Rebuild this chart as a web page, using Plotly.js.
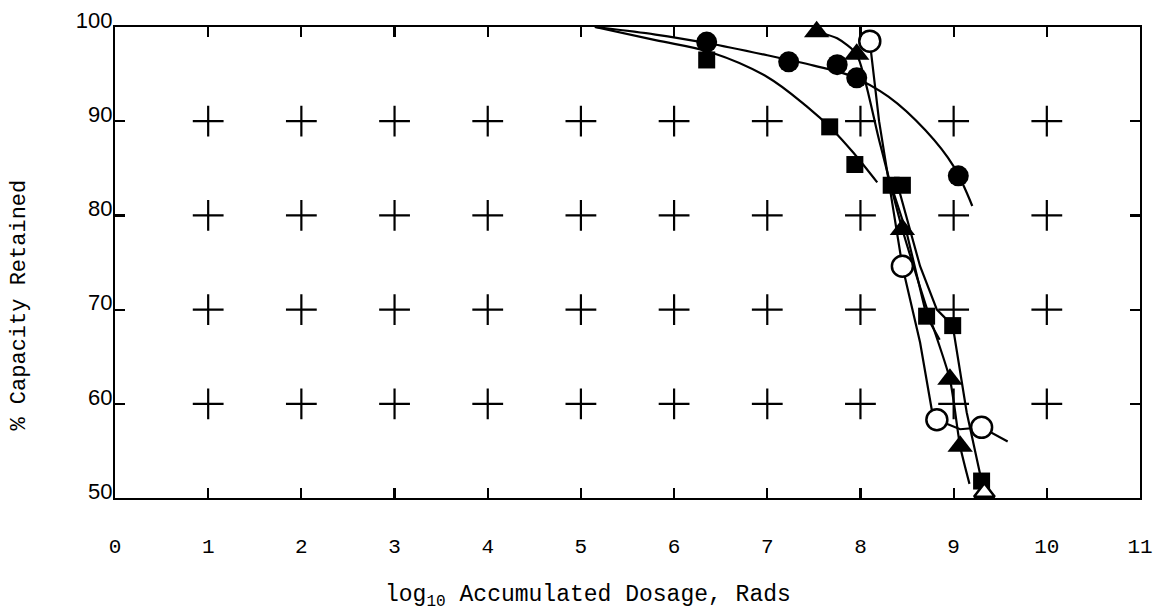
<!DOCTYPE html>
<html>
<head>
<meta charset="utf-8">
<script src="https://cdn.plot.ly/plotly-3.0.1.min.js"></script>
<style>html,body{margin:0;padding:0;background:#fff;}#chart{width:1163px;height:615px;}</style>
</head>
<body>
<div id="chart"></div>
<script>
// Grid "+" marks
const gridX = [1, 2, 3, 4, 5, 6, 7, 8, 9, 10];
const gridY = [60, 70, 80, 90];

// Data points
const circleX = [6.35, 7.23, 7.75, 7.96, 9.05];
const circleY = [98.4, 96.3, 96.0, 94.6, 84.2];
const squareX = [6.35, 7.67, 7.94, 8.33, 8.45, 8.71, 8.99, 9.30];
const squareY = [96.5, 89.4, 85.4, 83.2, 83.2, 69.3, 68.3, 51.8];
const triX = [7.53, 7.96, 8.45, 8.96, 9.07];
const triY = [99.5, 97.1, 78.5, 62.6, 55.5];
const openX = [8.10, 8.45, 8.82, 9.30];
const openY = [98.5, 74.6, 58.3, 57.5];
const openTriX = [9.33];
const openTriY = [50.6];

// Hand-drawn curves
const circleFitX = [5.15, 5.8, 6.35, 7.0, 7.5, 7.9, 8.3, 8.7, 9.0, 9.2];
const circleFitY = [100, 99.2, 98.3, 97.0, 95.9, 94.8, 92.6, 89.0, 85.2, 81.0];
const squareFitX = [5.15, 5.8, 6.4, 7.0, 7.42, 7.7, 7.92, 8.18];
const squareFitY = [100, 98.6, 97.3, 94.7, 91.6, 89.1, 86.7, 83.5];
const squareSteepX = [8.40, 8.64, 8.82, 8.99, 9.14, 9.30, 9.36];
const squareSteepY = [83.2, 74.6, 70.0, 68.3, 59.1, 51.8, 50.0];
const squareSteep2X = [8.33, 8.50, 8.71, 8.85];
const squareSteep2Y = [83.2, 78.0, 69.3, 66.8];
const triFitX = [7.53, 7.75, 7.96, 8.2, 8.45, 8.7, 8.96, 9.07, 9.17];
const triFitY = [99.5, 98.8, 97.1, 88.0, 78.5, 70.5, 62.6, 55.5, 51.5];
const openFitX = [8.10, 8.20, 8.45, 8.60, 8.64, 8.77, 8.82, 9.07, 9.30, 9.58];
const openFitY = [98.5, 90.0, 74.6, 68.2, 66.5, 59.1, 58.3, 57.3, 57.5, 56.0];

const crossX = [], crossY = [];
gridX.forEach(x => gridY.forEach(y => { crossX.push(x); crossY.push(y); }));

const lineStyle = {color: '#000', width: 2.2};
const traces = [
  {x: crossX, y: crossY, mode: 'markers', type: 'scatter', hoverinfo: 'skip',
   marker: {symbol: 'cross-thin', size: 22, line: {color: '#000', width: 2.2}}},
  {x: circleFitX, y: circleFitY, mode: 'lines', line: Object.assign({shape: 'spline', smoothing: 1}, lineStyle)},
  {x: squareFitX, y: squareFitY, mode: 'lines', line: Object.assign({shape: 'spline', smoothing: 1}, lineStyle)},
  {x: squareSteepX, y: squareSteepY, mode: 'lines', line: lineStyle},
  {x: squareSteep2X, y: squareSteep2Y, mode: 'lines', line: lineStyle},
  {x: triFitX, y: triFitY, mode: 'lines', line: Object.assign({shape: 'spline', smoothing: 0.6}, lineStyle)},
  {x: openFitX, y: openFitY, mode: 'lines', line: lineStyle},
  {x: circleX, y: circleY, mode: 'markers', cliponaxis: false, marker: {symbol: 'circle', size: 21, color: '#000'}},
  {x: squareX, y: squareY, mode: 'markers', cliponaxis: false, marker: {symbol: 'square', size: 17, color: '#000'}},
  {x: triX, y: triY, mode: 'markers', cliponaxis: false, marker: {symbol: 'triangle-up', size: 22, color: '#000'}},
  {x: openX, y: openY, mode: 'markers', cliponaxis: false, marker: {symbol: 'circle', size: 21, color: '#fff', line: {color: '#000', width: 2.5}}},
  {x: openTriX, y: openTriY, mode: 'markers', cliponaxis: false, marker: {symbol: 'triangle-up', size: 18, color: '#fff', line: {color: '#000', width: 2.5}}}
];

const layout = {
  width: 1163, height: 615,
  margin: {l: 115, r: 23, t: 27, b: 117},
  paper_bgcolor: '#fff', plot_bgcolor: '#fff',
  showlegend: false,
  xaxis: {
    range: [0, 11], tick0: 0, dtick: 1, ticks: 'inside', ticklen: 10, tickwidth: 2.2, tickcolor: '#000',
    showline: true, linewidth: 2.2, linecolor: '#000', mirror: 'ticks', showgrid: false, zeroline: false,
    tickfont: {family: 'Liberation Mono', size: 21, color: '#000'}, ticklabelstandoff: 28
  },
  yaxis: {
    range: [50, 100], tick0: 50, dtick: 10, ticks: 'inside', ticklen: 10, tickwidth: 2.2, tickcolor: '#000',
    showline: true, linewidth: 2.2, linecolor: '#000', mirror: 'ticks', showgrid: false, zeroline: false,
    tickfont: {family: 'Liberation Sans', size: 22, color: '#000'}, ticklabelshift: -7, ticklabelstandoff: -4
  },
  annotations: [
    {text: 'log<sub>10</sub> Accumulated Dosage, Rads', xref: 'paper', yref: 'paper', x: 0.461, y: -0.21,
     xanchor: 'center', yanchor: 'middle', showarrow: false,
     font: {family: 'Liberation Mono', size: 23, color: '#000'}},
    {text: '% Capacity Retained', xref: 'paper', yref: 'paper', x: -0.093, y: 0.41, textangle: -90,
     xanchor: 'center', yanchor: 'middle', showarrow: false,
     font: {family: 'Liberation Mono', size: 22, color: '#000'}}
  ]
};

Plotly.newPlot('chart', traces, layout, {displayModeBar: false, staticPlot: true});
</script>
</body>
</html>
